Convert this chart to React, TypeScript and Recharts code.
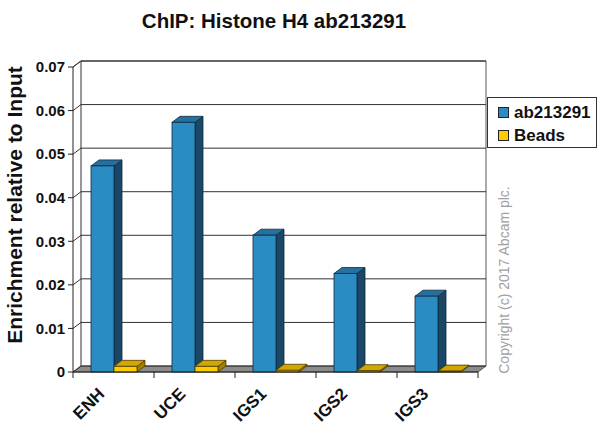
import React from 'react';
import { BarChart, Bar, XAxis, YAxis, CartesianGrid } from 'recharts';

const categories = ['ENH', 'UCE', 'IGS1', 'IGS2', 'IGS3'];
const antibodyValues = [0.0473, 0.0573, 0.0314, 0.0226, 0.0174];
const beadsValues = [0.0013, 0.0013, 0.0004, 0.0003, 0.0002];
const yTicks = [0, 0.01, 0.02, 0.03, 0.04, 0.05, 0.06, 0.07];

const chartData = categories.map((name, i) => ({
  name,
  ab213291: antibodyValues[i],
  Beads: beadsValues[i],
}));

// plot geometry (front face) and 3d depth offset
const PLOT_LEFT = 73;
const PLOT_TOP = 67;
const PLOT_RIGHT = 478;
const PLOT_BOTTOM = 372;
const DX = 8;
const DY = 6;
const BAND = (PLOT_RIGHT - PLOT_LEFT) / categories.length;
const FONT = '"Liberation Sans", Arial, sans-serif';

const make3DBar = (front: string, top: string, side: string, edge: string) => (props: any) => {
  const { x, y, width, height } = props;
  if (width == null || height == null) return null;
  const x2 = x + width;
  const yb = y + height;
  return (
    <g>
      <polygon
        points={`${x2},${y} ${x2 + DX},${y - DY} ${x2 + DX},${yb - DY} ${x2},${yb}`}
        fill={side}
        stroke={edge}
        strokeWidth={0.8}
      />
      <polygon
        points={`${x},${y} ${x + DX},${y - DY} ${x2 + DX},${y - DY} ${x2},${y}`}
        fill={top}
        stroke={edge}
        strokeWidth={0.8}
      />
      <rect x={x} y={y} width={width} height={height} fill={front} stroke={edge} strokeWidth={0.8} />
    </g>
  );
};

const blueBar = make3DBar('#2b8cc4', '#2670a0', '#1b4766', '#0e2a3d');
const yellowBar = make3DBar('#ffcc00', '#d4a600', '#a07f00', '#4d3d00');

const gridLine = (props: any) => {
  const { x1, y1, x2, index } = props;
  return (
    <g key={`gl-${index}-${y1}`}>
      {index === 0 && (
        <g>
          <polygon
            points={`${PLOT_LEFT},${PLOT_BOTTOM} ${PLOT_LEFT + DX},${PLOT_BOTTOM - DY} ${PLOT_RIGHT + DX},${PLOT_BOTTOM - DY} ${PLOT_RIGHT},${PLOT_BOTTOM}`}
            fill="#8c8c8c"
            stroke="#333"
            strokeWidth={0.8}
          />
          <line x1={PLOT_LEFT + DX} y1={PLOT_TOP - DY} x2={PLOT_LEFT + DX} y2={PLOT_BOTTOM - DY} stroke="#333" />
          <line x1={PLOT_RIGHT + DX} y1={PLOT_TOP - DY} x2={PLOT_RIGHT + DX} y2={PLOT_BOTTOM - DY} stroke="#555" />
          <line x1={PLOT_LEFT} y1={PLOT_TOP} x2={PLOT_LEFT + DX} y2={PLOT_TOP - DY} stroke="#333" />
          <line x1={PLOT_LEFT + DX} y1={PLOT_TOP - DY} x2={PLOT_RIGHT + DX} y2={PLOT_TOP - DY} stroke="#333" />
        </g>
      )}
      <line x1={x1} y1={y1} x2={x1 + DX} y2={y1 - DY} stroke="#333" />
      <line x1={x1 + DX} y1={y1 - DY} x2={x2 + DX} y2={y1 - DY} stroke="#333" />
    </g>
  );
};

const XTick = (props: any) => {
  const { x, payload, index } = props;
  const tx = x - 8;
  const ty = PLOT_BOTTOM + 23;
  return (
    <g>
      <line x1={x + BAND / 2} y1={PLOT_BOTTOM} x2={x + BAND / 2} y2={PLOT_BOTTOM + 6} stroke="#222" />
      {index === 0 && (
        <line x1={x - BAND / 2} y1={PLOT_BOTTOM} x2={x - BAND / 2} y2={PLOT_BOTTOM + 6} stroke="#222" />
      )}
      <text
        x={tx}
        y={ty}
        transform={`rotate(-45, ${tx}, ${ty})`}
        textAnchor="end"
        fontFamily={FONT}
        fontWeight="bold"
        fontSize={17}
        fill="#111"
      >
        {payload.value}
      </text>
    </g>
  );
};

const legendItems = [
  { name: 'ab213291', color: '#2b8cc4' },
  { name: 'Beads', color: '#ffcc00' },
];

export default function App() {
  return (
    <div style={{ position: 'fixed', left: 0, top: 0, width: 600, height: 435, background: '#fff', fontFamily: FONT }}>
      <svg width={600} height={435} style={{ position: 'absolute', left: 0, top: 0 }}>
        <text x={274} y={28} textAnchor="middle" fontFamily={FONT} fontWeight="bold" fontSize={20.5} fill="#111">
          ChIP: Histone H4 ab213291
        </text>
        <text
          x={22}
          y={205}
          transform="rotate(-90, 22, 205)"
          textAnchor="middle"
          fontFamily={FONT}
          fontWeight="bold"
          fontSize={21}
          fill="#111"
        >
          Enrichment relative to Input
        </text>
        <text
          x={509}
          y={280}
          transform="rotate(-90, 509, 280)"
          textAnchor="middle"
          fontFamily={FONT}
          fontSize={14}
          fill="#a0a0a0"
        >
          Copyright (c) 2017 Abcam plc.
        </text>
      </svg>
      <div style={{ position: 'absolute', left: 0, top: 0 }}>
        <BarChart
          width={600}
          height={435}
          data={chartData}
          margin={{ top: PLOT_TOP, right: 600 - PLOT_RIGHT, bottom: 0, left: 13 }}
          barSize={23}
          barGap={0}
        >
          <CartesianGrid horizontal={gridLine} vertical={false} />
          <XAxis
            dataKey="name"
            height={435 - PLOT_BOTTOM}
            axisLine={{ stroke: '#222' }}
            tickLine={false}
            tick={<XTick />}
            interval={0}
          />
          <YAxis
            width={60}
            domain={[0, 0.07]}
            ticks={yTicks}
            interval={0}
            axisLine={{ stroke: '#222' }}
            tickLine={{ stroke: '#222' }}
            tickSize={5}
            tickMargin={3}
            tick={{ fill: '#111', fontFamily: FONT, fontWeight: 'bold', fontSize: 15 }}
            tickFormatter={(v: number) => (v === 0 ? '0' : v.toFixed(2))}
          />
          <Bar dataKey="ab213291" shape={blueBar} isAnimationActive={false} />
          <Bar dataKey="Beads" shape={yellowBar} isAnimationActive={false} />
        </BarChart>
      </div>
      <div
        style={{
          position: 'absolute',
          left: 487,
          top: 97,
          width: 110,
          height: 51,
          border: '1px solid #333',
          background: '#fff',
          padding: '3px 0 0 10px',
          boxSizing: 'border-box',
        }}
      >
        {legendItems.map((item) => (
          <div key={item.name} style={{ display: 'flex', alignItems: 'center', height: 23, fontWeight: 'bold', fontSize: 17, color: '#111' }}>
            <span
              style={{ display: 'inline-block', width: 9, height: 9, background: item.color, border: '1px solid #222', marginRight: 5 }}
            />
            {item.name}
          </div>
        ))}
      </div>
    </div>
  );
}
